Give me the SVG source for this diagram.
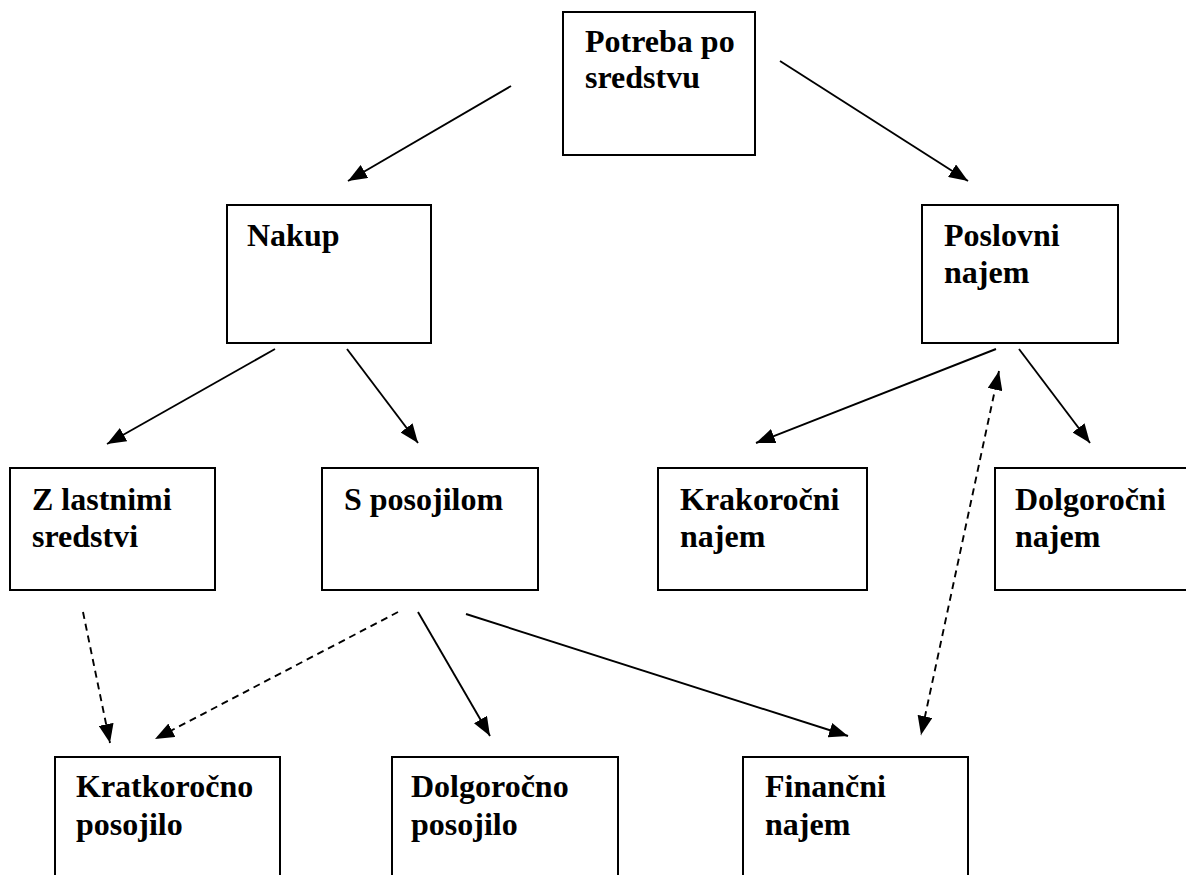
<svg xmlns="http://www.w3.org/2000/svg" width="1186" height="875" viewBox="0 0 1186 875">
<style>
.box{fill:#fff;stroke:#000;stroke-width:2}
.t{font-family:"Liberation Serif","Times New Roman",serif;font-weight:bold;font-size:32px;fill:#000}
.c{stroke:#000;stroke-width:1.9;fill:none}
.d{stroke-dasharray:7 5}
</style>
<defs>
<marker id="ah" markerWidth="19" markerHeight="15" refX="19" refY="7.5" orient="auto-start-reverse" markerUnits="userSpaceOnUse">
<path d="M0,0 L19,7.5 L0,15 z" fill="#000"/>
</marker>
</defs>
<rect width="1186" height="875" fill="#fff"/>
<g id="connectors">
<line class="c" x1="511" y1="86" x2="348" y2="181" marker-end="url(#ah)"/>
<line class="c" x1="780" y1="61" x2="968" y2="181" marker-end="url(#ah)"/>
<line class="c" x1="275" y1="349" x2="107" y2="444" marker-end="url(#ah)"/>
<line class="c" x1="347" y1="349" x2="418" y2="443" marker-end="url(#ah)"/>
<line class="c" x1="996" y1="349" x2="756" y2="443" marker-end="url(#ah)"/>
<line class="c" x1="1019" y1="349" x2="1090" y2="443" marker-end="url(#ah)"/>
<line class="c d" x1="999" y1="371" x2="921" y2="735" marker-start="url(#ah)" marker-end="url(#ah)"/>
<line class="c d" x1="83" y1="612" x2="110" y2="743" marker-end="url(#ah)"/>
<line class="c d" x1="398" y1="612" x2="155" y2="739" marker-end="url(#ah)"/>
<line class="c" x1="418" y1="612" x2="490" y2="736" marker-end="url(#ah)"/>
<line class="c" x1="466" y1="614" x2="848" y2="736" marker-end="url(#ah)"/>
</g>
<g id="potreba"><rect class="box" x="563" y="12" width="192" height="143"/><text class="t" x="585" y="52">Potreba po</text><text class="t" x="585" y="88">sredstvu</text></g>
<g id="nakup"><rect class="box" x="227" y="205" width="204" height="138"/><text class="t" x="247" y="246">Nakup</text></g>
<g id="poslovni"><rect class="box" x="922" y="205" width="196" height="138"/><text class="t" x="944" y="246">Poslovni</text><text class="t" x="944" y="283">najem</text></g>
<g id="zlastnimi"><rect class="box" x="10" y="468" width="205" height="122"/><text class="t" x="32" y="510">Z lastnimi</text><text class="t" x="32" y="547">sredstvi</text></g>
<g id="sposojilom"><rect class="box" x="322" y="468" width="216" height="122"/><text class="t" x="344" y="510">S posojilom</text></g>
<g id="krakorocni"><rect class="box" x="658" y="468" width="209" height="122"/><text class="t" x="680" y="510">Krakoročni</text><text class="t" x="680" y="547">najem</text></g>
<g id="dolgorocni-najem"><rect class="box" x="995" y="468" width="220" height="122"/><text class="t" x="1015" y="510">Dolgoročni</text><text class="t" x="1015" y="547">najem</text></g>
<g id="kratkorocno"><rect class="box" x="55" y="757" width="225" height="140"/><text class="t" x="76" y="797">Kratkoročno</text><text class="t" x="76" y="835">posojilo</text></g>
<g id="dolgorocno"><rect class="box" x="392" y="757" width="226" height="140"/><text class="t" x="411" y="797">Dolgoročno</text><text class="t" x="411" y="835">posojilo</text></g>
<g id="financni"><rect class="box" x="743" y="757" width="225" height="140"/><text class="t" x="765" y="797">Finančni</text><text class="t" x="765" y="835">najem</text></g>
</svg>
